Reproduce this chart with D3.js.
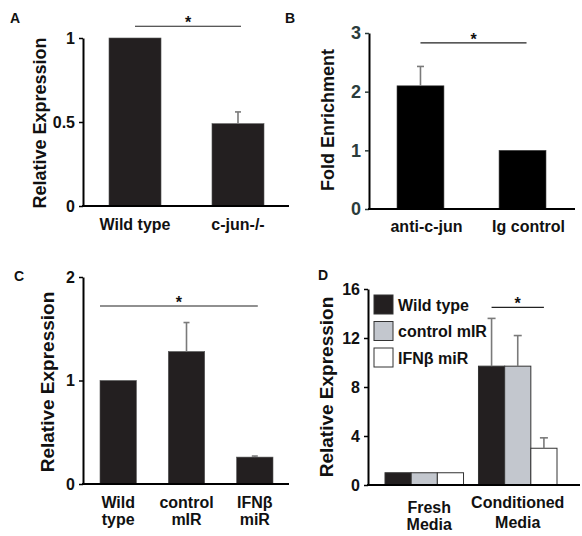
<!DOCTYPE html>
<html><head><meta charset="utf-8">
<script src="https://cdn.jsdelivr.net/npm/d3@7"></script>
<style>
body{margin:0;background:#fff;}
svg{display:block;font-family:"Liberation Sans",Arial,Helvetica,sans-serif;}
</style></head>
<body>
<svg id="chart" width="582" height="536"></svg>
<script>
// ---------- data ----------
const catsA = ["Wild type", "c-jun-/-"];
const valsA = [1.0, 0.49];
const errA  = [0, 0.07];
const ticksA = [0, 0.5, 1];
const tickLabelsA = ["0", "0.5", "1"];

const catsB = ["anti-c-jun", "Ig control"];
const valsB = [2.1, 1.0];
const errB  = [0.33, 0];
const ticksB = [0, 1, 2, 3];
const tickLabelsB = ["0", "1", "2", "3"];

const catsC = [["Wild", "type"], ["control", "mIR"], ["IFNβ", "miR"]];
const valsC = [1.0, 1.28, 0.26];
const errC  = [0, 0.28, 0.01];
const ticksC = [0, 1, 2];
const tickLabelsC = ["0", "1", "2"];

const groupsD = [["Fresh", "Media"], ["Conditioned", "Media"]];
const seriesD = ["Wild type", "control mIR", "IFNβ miR"];
const valsDWild    = [1.0, 9.7];
const valsDControl = [1.0, 9.7];
const valsDIFN     = [1.0, 3.0];
const errDWild     = [0, 3.9];
const errDControl  = [0, 2.5];
const errDIFN      = [0, 0.85];
const ticksD = [0, 4, 8, 12, 16];
const tickLabelsD = ["0", "4", "8", "12", "16"];

// ---------- style ----------
const BAR = "#231f20", GRAY = "#c3c7ce", WHITE = "#ffffff";
const ERR = "#7a7a7a";
const svg = d3.select("#chart");

function panel(o) {
  const g = svg.append("g");
  const y = d3.scaleLinear().domain(o.yDomain).range([o.yBottom, o.yTop]);
  // y axis
  const ax = g.append("g").attr("transform", `translate(${o.x0},0)`)
    .call(d3.axisLeft(y).tickValues(o.ticks).tickSize(4).tickSizeOuter(0)
      .tickFormat((d, i) => o.tickLabels[i]));
  ax.select(".domain").attr("stroke", "#000").attr("stroke-width", 2);
  ax.selectAll(".tick line").attr("stroke", o.tickColor || "#000").attr("stroke-width", 1.5);
  ax.selectAll(".tick text").attr("font-size", o.tickFont || 16).attr("font-weight", "bold")
    .attr("fill", o.tickColor || "#111").attr("x", -8);
  // y label
  g.append("text")
    .attr("transform", `translate(${o.labelX},${o.labelY}) rotate(-90)`)
    .attr("text-anchor", "middle").attr("font-size", o.labelFont || 18).attr("font-weight", "bold")
    .attr("fill", "#111").text(o.yLabel);
  // panel letter
  g.append("text").attr("x", o.letterX).attr("y", o.letterY)
    .attr("font-size", 14).attr("font-weight", "bold").attr("fill", "#111").text(o.letter);
  return {g, y};
}

function baseline(g, y, x0, xEnd) {
  g.append("line").attr("x1", x0 - 1).attr("x2", xEnd).attr("y1", y(0)).attr("y2", y(0))
    .attr("stroke", "#000").attr("stroke-width", 2);
}

function sig(g, x1, x2, yy) {
  g.append("line").attr("x1", x1).attr("x2", x2).attr("y1", yy).attr("y2", yy)
    .attr("stroke", "#222").attr("stroke-width", 1.2);
  g.append("text").attr("x", (x1 + x2) / 2).attr("y", yy + 2).attr("text-anchor", "middle")
    .attr("font-size", 16).attr("font-weight", "bold").attr("fill", "#111").text("*");
}

function errBars(g, xs, y, vals, errs, w) {
  vals.forEach((v, i) => {
    if (!errs[i]) return;
    const cx = xs[i];
    g.append("line").attr("x1", cx).attr("x2", cx).attr("y1", y(v)).attr("y2", y(v + errs[i]))
      .attr("stroke", ERR).attr("stroke-width", 1.6);
    g.append("line").attr("x1", cx - w / 2).attr("x2", cx + w / 2)
      .attr("y1", y(v + errs[i])).attr("y2", y(v + errs[i]))
      .attr("stroke", ERR).attr("stroke-width", 1.6);
  });
}

function xLabels(g, x, cats, yy, lineH, size) {
  cats.forEach((c, i) => {
    const lines = Array.isArray(c) ? c : [c];
    const t = g.append("text").attr("text-anchor", "middle").attr("font-size", size || 16)
      .attr("font-weight", "bold").attr("fill", "#111");
    lines.forEach((l, j) => {
      t.append("tspan").attr("x", x(i)).attr("y", yy + j * lineH).text(l);
    });
  });
}

// ---------- Panel A ----------
{
  const {g, y} = panel({x0: 83, yTop: 38, yBottom: 206, yDomain: [0, 1], ticks: ticksA,
    tickLabels: tickLabelsA, yLabel: "Relative Expression", labelX: 46, labelY: 123,
    letter: "A", letterX: 10, letterY: 23});
  const x = d3.scaleBand().domain(catsA).range([109, 264]).paddingInner(0.495).paddingOuter(0);
  g.selectAll("rect.bar").data(valsA).join("rect").attr("class", "bar")
    .attr("x", (d, i) => x(catsA[i])).attr("width", x.bandwidth())
    .attr("y", d => y(d)).attr("height", d => y(0) - y(d))
    .attr("fill", BAR).attr("stroke", "#555").attr("stroke-width", 0.6);
  errBars(g, catsA.map(c => x(c) + x.bandwidth() / 2), y, valsA, errA, 6);
  baseline(g, y, 83, 289);
  xLabels(g, i => x(catsA[i]) + x.bandwidth() / 2, catsA, 230, 17);
  sig(g, x(catsA[0]) + x.bandwidth() / 2, x(catsA[1]) + x.bandwidth() / 2 + 3, y(1.07));
}

// ---------- Panel B ----------
{
  const {g, y} = panel({x0: 369, yTop: 33, yBottom: 209, yDomain: [0, 3], ticks: ticksB,
    tickLabels: tickLabelsB, yLabel: "Fold Enrichment", labelX: 334, labelY: 120,
    letter: "B", letterX: 285, letterY: 23, tickFont: 18, tickColor: "#2b3c3c"});
  const x = d3.scaleBand().domain(catsB).range([397, 546]).paddingInner(0.54).paddingOuter(0);
  g.selectAll("rect.bar").data(valsB).join("rect").attr("class", "bar")
    .attr("x", (d, i) => x(catsB[i])).attr("width", x.bandwidth())
    .attr("y", d => y(d)).attr("height", d => y(0) - y(d))
    .attr("fill", "#000").attr("stroke", "#444").attr("stroke-width", 0.6);
  errBars(g, catsB.map(c => x(c) + x.bandwidth() / 2), y, valsB, errB, 7);
  g.selectAll("line.errfix").remove();
  baseline(g, y, 369, 575);
  xLabels(g, i => x(catsB[i]) + x.bandwidth() / 2 + 6, catsB, 232, 17);
  sig(g, x(catsB[0]) + x.bandwidth() / 2, x(catsB[1]) + x.bandwidth() / 2 + 4, y(2.83));
}

// ---------- Panel C ----------
{
  const keys = catsC.map(c => c.join(" "));
  const {g, y} = panel({x0: 83, yTop: 277, yBottom: 484, yDomain: [0, 2], ticks: ticksC,
    tickLabels: tickLabelsC, yLabel: "Relative Expression", labelX: 54, labelY: 382,
    letter: "C", letterX: 14, letterY: 281, labelFont: 19});
  const x = d3.scaleBand().domain(keys).range([100, 273]).paddingInner(0.467).paddingOuter(0);
  g.selectAll("rect.bar").data(valsC).join("rect").attr("class", "bar")
    .attr("x", (d, i) => x(keys[i])).attr("width", x.bandwidth())
    .attr("y", d => y(d)).attr("height", d => y(0) - y(d))
    .attr("fill", BAR).attr("stroke", "#555").attr("stroke-width", 0.6);
  errBars(g, keys.map(c => x(c) + x.bandwidth() / 2), y, valsC, errC, 6);
  baseline(g, y, 83, 289);
  xLabels(g, i => x(keys[i]) + x.bandwidth() / 2, catsC, 508, 17);
  sig(g, x(keys[0]), x(keys[2]) + x.bandwidth() / 2 + 3, y(1.72));
}

// ---------- Panel D ----------
{
  const keys = groupsD.map(c => c.join(" "));
  const {g, y} = panel({x0: 368, yTop: 289, yBottom: 485, yDomain: [0, 16], ticks: ticksD,
    tickLabels: tickLabelsD, yLabel: "Relative Expression", labelX: 333, labelY: 387,
    letter: "D", letterX: 318, letterY: 280, labelFont: 19});
  const x0 = d3.scaleBand().domain(keys).range([385, 557]).paddingInner(0.16).paddingOuter(0);
  const x1 = d3.scaleBand().domain(seriesD).range([0, x0.bandwidth()]).padding(0);
  const colors = d3.scaleOrdinal().domain(seriesD).range([BAR, GRAY, WHITE]);
  const vals = [valsDWild, valsDControl, valsDIFN];
  const errs = [errDWild, errDControl, errDIFN];
  seriesD.forEach((s, si) => {
    g.selectAll(null).data(vals[si]).join("rect")
      .attr("x", (d, i) => x0(keys[i]) + x1(s)).attr("width", x1.bandwidth())
      .attr("y", d => y(d)).attr("height", d => y(0) - y(d))
      .attr("fill", colors(s)).attr("stroke", "#333").attr("stroke-width", 1);
  });
  seriesD.forEach((s, si) => {
    errBars(g, keys.map(k => x0(k) + x1(s) + x1.bandwidth() / 2), y, vals[si], errs[si], 8);
  });
  baseline(g, y, 368, 580);
  // x labels
  const lab = g.append("g");
  groupsD.forEach((c, i) => {
    const t = lab.append("text").attr("text-anchor", "middle").attr("font-size", 16)
      .attr("font-weight", "bold").attr("fill", "#111");
    const cx = x0(keys[i]) + x0.bandwidth() / 2 + (i === 0 ? 5 : 0);
    const y0 = i === 0 ? 513 : 508;
    c.forEach((l, j) => t.append("tspan").attr("x", cx).attr("y", y0 + j * (i === 0 ? 17 : 20)).text(l));
  });
  // significance
  sig(g, x0(keys[1]) + x1(seriesD[0]) + x1.bandwidth() / 2,
         x0(keys[1]) + x1(seriesD[2]) + x1.bandwidth() / 2, y(14.5));
  // legend
  const leg = g.append("g").attr("transform", "translate(374,295)");
  seriesD.forEach((s, i) => {
    const r = leg.append("g").attr("transform", `translate(0,${i * 26.5})`);
    r.append("rect").attr("width", 19).attr("height", 19).attr("fill", colors(s))
      .attr("stroke", "#333").attr("stroke-width", 1);
    r.append("text").attr("x", 24).attr("y", 15.5).attr("font-size", 16)
      .attr("font-weight", "bold").attr("fill", "#111").text(s);
  });
}
</script>
</body></html>
